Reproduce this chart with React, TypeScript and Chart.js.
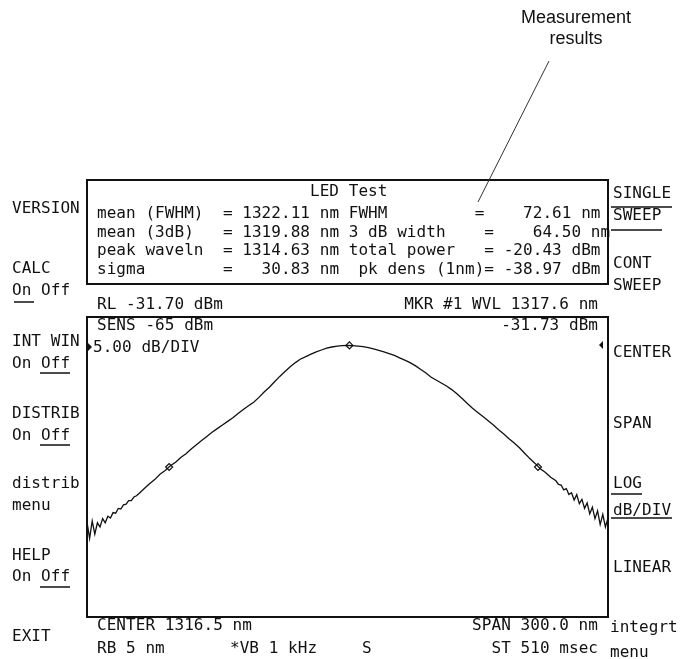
import React, { useEffect, useRef } from "react";
import { Chart, registerables } from "chart.js";

Chart.register(...registerables);

// ---- data ----
const wavelengthsNm = [
  1166.5, 1168.0, 1169.5, 1171.0, 1172.5, 1174.0, 1175.5, 1177.0, 1178.5, 1180.0,
  1181.5, 1183.0, 1184.5, 1186.0, 1187.5, 1189.0, 1190.5, 1192.0, 1193.5, 1195.0,
  1196.5,
  1199.5, 1202.5, 1205.5, 1208.5, 1211.5, 1214.5, 1217.5, 1220.5, 1223.5, 1226.5,
  1229.5, 1232.5, 1235.5, 1238.5, 1241.5, 1244.5, 1247.5, 1250.5, 1253.5, 1256.5,
  1259.5, 1262.5, 1265.5, 1268.5, 1271.5, 1274.5, 1277.5, 1280.5, 1283.5, 1286.5,
  1289.5, 1292.5, 1295.5, 1298.5, 1301.5, 1304.5, 1307.5, 1310.5, 1313.5, 1316.5,
  1319.5, 1322.5, 1325.5, 1328.5, 1331.5, 1334.5, 1337.5, 1340.5, 1343.5, 1346.5,
  1349.5, 1352.5, 1355.5, 1358.5, 1361.5, 1364.5, 1367.5, 1370.5, 1373.5, 1376.5,
  1379.5, 1382.5, 1385.5, 1388.5, 1391.5, 1394.5, 1397.5, 1400.5, 1403.5, 1406.5,
  1409.5, 1412.5, 1415.5, 1418.5, 1421.5, 1424.5, 1427.5, 1430.5, 1433.5,
  1436.5, 1438.0, 1439.5, 1441.0, 1442.5, 1444.0, 1445.5, 1447.0, 1448.5, 1450.0,
  1451.5, 1453.0, 1454.5, 1456.0, 1457.5, 1459.0, 1460.5, 1462.0, 1463.5, 1465.0,
  1466.5,
];

const powerDbm = [
  -61.2, -63.9, -61.0, -63.2, -61.3, -62.0, -60.6, -61.3, -60.2, -60.5,
  -59.6, -59.7, -58.9, -59.0, -58.3, -58.2, -57.6, -57.6, -57.0, -56.8,
  -56.4,
  -55.6, -54.8, -54.1, -53.2, -52.6, -51.8, -51.2, -50.4, -49.8, -49.0,
  -48.3, -47.6, -46.9, -46.2, -45.6, -45.0, -44.4, -43.8, -43.1, -42.4,
  -41.8, -41.2, -40.4, -39.5, -38.7, -37.8, -36.9, -36.1, -35.3, -34.6,
  -34.0, -33.6, -33.2, -32.8, -32.5, -32.2, -32.0, -31.85, -31.78, -31.74,
  -31.76, -31.85, -31.95, -32.1, -32.3, -32.55, -32.8, -33.1, -33.4, -33.8,
  -34.2, -34.6, -35.1, -35.7, -36.3, -37.0, -37.5, -38.0, -38.5, -39.1,
  -39.8, -40.6, -41.4, -42.2, -42.9, -43.6, -44.3, -45.0, -45.8, -46.5,
  -47.3, -48.0, -48.8, -49.7, -50.6, -51.4, -52.3, -52.9, -53.7,
  -54.3, -54.9, -55.0, -55.8, -55.6, -56.6, -56.3, -57.5, -56.6, -58.1,
  -57.4, -58.9, -58.0, -59.8, -58.7, -60.6, -59.3, -61.6, -59.9, -62.0,
  -60.5,
];

const markerWavelengthsNm = [1213.8, 1317.6, 1426.2];
const markerPowerDbm = [-52.0, -31.73, -52.0];

const xMinNm = 1166.5;
const xMaxNm = 1466.5;
const yTopDbm = -27;
const yBottomDbm = -77;

const boxTitle = "LED Test";
const resultRows = [
  "mean (FWHM)  = 1322.11 nm FWHM         =    72.61 nm",
  "mean (3dB)   = 1319.88 nm 3 dB width    =    64.50 nm",
  "peak waveln  = 1314.63 nm total power   = -20.43 dBm",
  "sigma        =   30.83 nm  pk dens (1nm)= -38.97 dBm",
];

const MONO = '"DejaVu Sans Mono", "Liberation Mono", monospace';
const INK = "#111";

type TProps = { x?: number; right?: number; cy: number; children: React.ReactNode };
const T = ({ x, right, cy, children }: TProps) => (
  <div
    style={{
      position: "absolute",
      left: right === undefined ? x : undefined,
      right: right !== undefined ? 680 - right : undefined,
      top: cy - 8,
      font: `16px ${MONO}`,
      lineHeight: "16px",
      whiteSpace: "pre",
      color: INK,
      letterSpacing: "0.05px",
    }}
  >
    {children}
  </div>
);

const framePlugin = {
  id: "frame",
  afterDraw(chart: any) {
    const { ctx, chartArea } = chart;
    const { left, top, right, bottom } = chartArea;
    ctx.save();
    ctx.strokeStyle = INK;
    ctx.lineWidth = 2;
    ctx.strokeRect(left, top, right - left, bottom - top);
    ctx.restore();
  },
};

export default function App() {
  const canvasRef = useRef<HTMLCanvasElement | null>(null);

  useEffect(() => {
    const canvas = canvasRef.current;
    if (!canvas) return;
    const trace = wavelengthsNm.map((w, i) => ({ x: w, y: powerDbm[i] }));
    const markers = markerWavelengthsNm.map((w, i) => ({ x: w, y: markerPowerDbm[i] }));
    const chart = new Chart(canvas, {
      type: "line",
      data: {
        datasets: [
          {
            data: markers,
            showLine: false,
            pointStyle: "rectRot",
            pointRadius: 3.5,
            pointBorderWidth: 1.2,
            pointBorderColor: INK,
            pointBackgroundColor: "rgba(255,255,255,0)",
            order: 0,
          },
          {
            data: trace,
            borderColor: INK,
            borderWidth: 1.3,
            pointRadius: 0,
            tension: 0,
            fill: false,
            order: 1,
          },
        ],
      },
      options: {
        responsive: false,
        animation: false,
        devicePixelRatio: 1,
        layout: { padding: { left: 7, top: 7, right: 8, bottom: 7 } },
        plugins: { legend: { display: false }, tooltip: { enabled: false }, title: { display: false } },
        scales: {
          x: { type: "linear", min: xMinNm, max: xMaxNm, display: false },
          y: { type: "linear", min: yBottomDbm, max: yTopDbm, display: false },
        },
      },
      plugins: [framePlugin],
    });
    return () => chart.destroy();
  }, []);

  const rowY = [213, 232, 250, 269];

  return (
    <div
      style={{
        position: "absolute",
        left: 0,
        top: 0,
        width: 680,
        height: 659,
        background: "#fff",
        overflow: "hidden",
      }}
    >
      <canvas
        ref={canvasRef}
        width={536}
        height={314}
        style={{ position: "absolute", left: 80, top: 310, width: 536, height: 314 }}
      />

      <svg
        width={680}
        height={659}
        style={{ position: "absolute", left: 0, top: 0, pointerEvents: "none" }}
      >
        <rect x={87} y={180} width={521} height={104} fill="none" stroke={INK} strokeWidth={2} />
        <line x1={549} y1={61} x2={478} y2={202} stroke="#333" strokeWidth={1} />
        {/* left softkey underlines */}
        <line x1={14} y1={302} x2={34} y2={302} stroke={INK} strokeWidth={1.5} />
        <line x1={40} y1={373} x2={70} y2={373} stroke={INK} strokeWidth={1.5} />
        <line x1={40} y1={445} x2={70} y2={445} stroke={INK} strokeWidth={1.5} />
        <line x1={40} y1={587} x2={70} y2={587} stroke={INK} strokeWidth={1.5} />
        {/* right softkey lines */}
        <line x1={611} y1={207} x2={672} y2={207} stroke={INK} strokeWidth={1.5} />
        <line x1={611} y1={230} x2={662} y2={230} stroke={INK} strokeWidth={1.5} />
        <line x1={611} y1={494} x2={642} y2={494} stroke={INK} strokeWidth={1.5} />
        <line x1={611} y1={518} x2={672} y2={518} stroke={INK} strokeWidth={1.5} />
        {/* reference level arrows */}
        <polygon points="88,343 88,351 92,347" fill={INK} />
        <polygon points="603,341 603,349 599,345" fill={INK} />
      </svg>

      {/* annotation */}
      <div
        style={{
          position: "absolute",
          left: 496,
          width: 160,
          top: 7,
          textAlign: "center",
          font: '18px "Liberation Sans", Arial, sans-serif',
          lineHeight: "21px",
          color: INK,
        }}
      >
        Measurement
        <br />
        results
      </div>

      {/* results box */}
      <T x={310} cy={191}>{boxTitle}</T>
      {resultRows.map((r, i) => (
        <T key={i} x={97} cy={rowY[i]}>
          {r}
        </T>
      ))}

      {/* left softkeys */}
      <T x={12} cy={208}>VERSION</T>
      <T x={12} cy={268}>CALC</T>
      <T x={12} cy={290}>On Off</T>
      <T x={12} cy={341}>INT WIN</T>
      <T x={12} cy={363}>On Off</T>
      <T x={12} cy={413}>DISTRIB</T>
      <T x={12} cy={435}>On Off</T>
      <T x={12} cy={483}>distrib</T>
      <T x={12} cy={505}>menu</T>
      <T x={12} cy={555}>HELP</T>
      <T x={12} cy={576}>On Off</T>
      <T x={12} cy={636}>EXIT</T>

      {/* right softkeys */}
      <T x={613} cy={193}>SINGLE</T>
      <T x={613} cy={215}>SWEEP</T>
      <T x={613} cy={263}>CONT</T>
      <T x={613} cy={285}>SWEEP</T>
      <T x={613} cy={352}>CENTER</T>
      <T x={613} cy={423}>SPAN</T>
      <T x={613} cy={483}>LOG</T>
      <T x={613} cy={510}>dB/DIV</T>
      <T x={613} cy={567}>LINEAR</T>
      <T x={610} cy={627}>integrt</T>
      <T x={610} cy={652}>menu</T>

      {/* around the trace */}
      <T x={97} cy={304}>RL -31.70 dBm</T>
      <T right={598} cy={304}>MKR #1 WVL 1317.6 nm</T>
      <T x={97} cy={325}>SENS -65 dBm</T>
      <T right={598} cy={325}>-31.73 dBm</T>
      <T x={93} cy={347}>5.00 dB/DIV</T>
      <T x={97} cy={625}>CENTER 1316.5 nm</T>
      <T right={598} cy={625}>SPAN 300.0 nm</T>
      <T x={97} cy={648}>RB 5 nm</T>
      <T x={230} cy={648}>*VB 1 kHz</T>
      <T x={362} cy={648}>S</T>
      <T right={598} cy={648}>ST 510 msec</T>
    </div>
  );
}
